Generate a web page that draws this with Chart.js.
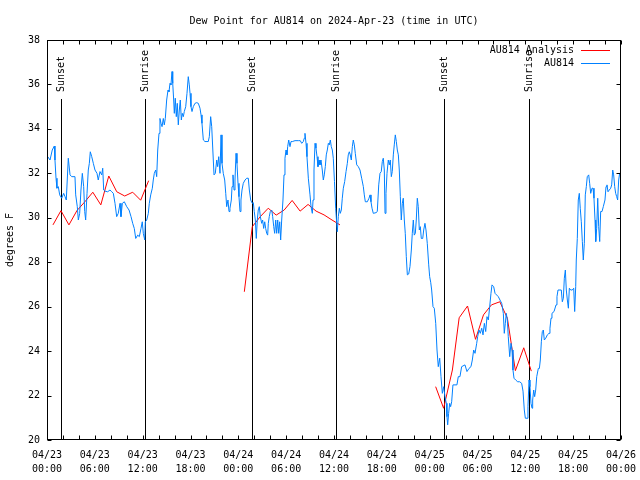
<!DOCTYPE html>
<html>
<head>
<meta charset="utf-8">
<title>Dew Point for AU814</title>
<script src="https://cdn.jsdelivr.net/npm/chart.js@4/dist/chart.umd.min.js"></script>
<style>
  html, body { margin: 0; padding: 0; background: #fff; }
  canvas { display: block; }
</style>
</head>
<body>
<canvas id="chart" width="640" height="480"></canvas>
<script>
// hours are counted from 04/23 00:00 UTC
const startMonth = '04';
const startDay = 23;

// AU814 station obs, dew point deg F
const obsHours = [
  0.09, 0.38, 0.66, 0.92, 1.0, 1.13, 1.25, 1.42, 1.59, 1.84, 2.09, 2.26, 2.42, 2.6, 2.67, 2.89, 3.1, 3.51, 3.6, 3.8,
  3.93, 4.1, 4.26, 4.43, 4.6, 4.73, 4.85, 5.02, 5.18, 5.31, 5.43, 5.61, 5.81, 6.02, 6.27, 6.43, 6.65, 6.86, 6.99, 7.11,
  7.28, 7.61, 7.9, 8.12, 8.32, 8.53, 8.74, 8.94, 9.16, 9.28, 9.45, 9.7, 10.0, 10.29, 10.54, 10.75, 10.95, 11.13, 11.38, 11.58,
  11.79, 11.95, 12.08, 12.26, 12.33, 12.51, 12.71, 12.83, 13.01, 13.21, 13.33, 13.46, 13.63, 13.76, 13.89, 14.05, 14.17, 14.3, 14.43, 14.59,
  14.71, 14.84, 15.01, 15.18, 15.3, 15.43, 15.55, 15.68, 15.77, 15.89, 15.97, 16.09, 16.22, 16.34, 16.47, 16.6, 16.72, 16.85, 16.97, 17.1,
  17.22, 17.4, 17.56, 17.72, 17.85, 17.94, 18.06, 18.19, 18.35, 18.56, 18.78, 18.98, 19.19, 19.32, 19.44, 19.61, 19.82, 20.23, 20.36, 20.53,
  20.66, 20.86, 20.95, 21.11, 21.29, 21.41, 21.54, 21.7, 21.83, 21.95, 22.11, 22.29, 22.42, 22.54, 22.7, 22.83, 22.95, 23.12, 23.21, 23.33,
  23.46, 23.58, 23.71, 23.83, 23.96, 24.08, 24.21, 24.33, 24.46, 24.62, 24.84, 25.05, 25.25, 25.38, 25.55, 25.75, 25.88, 26.0, 26.13, 26.25,
  26.38, 26.5, 26.63, 26.76, 26.93, 27.05, 27.18, 27.31, 27.43, 27.56, 27.68, 27.76, 27.88, 28.01, 28.19, 28.31, 28.44, 28.56, 28.69, 28.81,
  28.94, 29.06, 29.19, 29.31, 29.44, 29.6, 29.73, 29.85, 29.98, 30.1, 30.19, 30.32, 30.48, 30.61, 30.77, 31.11, 31.52, 31.77, 31.95, 32.15,
  32.27, 32.36, 32.49, 32.61, 32.78, 32.99, 33.12, 33.28, 33.37, 33.49, 33.62, 33.74, 33.87, 33.99, 34.12, 34.24, 34.37, 34.53, 34.66, 34.78,
  34.91, 35.03, 35.16, 35.29, 35.41, 35.54, 35.66, 35.79, 35.91, 36.06, 36.21, 36.34, 36.41, 36.54, 36.67, 36.79, 36.92, 37.04, 37.17, 37.34,
  37.51, 37.67, 37.79, 37.92, 38.04, 38.17, 38.3, 38.42, 38.55, 38.67, 38.85, 39.05, 39.26, 39.47, 39.68, 39.8, 39.93, 40.18, 40.39, 40.52,
  40.64, 40.77, 40.93, 41.27, 41.43, 41.61, 41.77, 41.93, 42.06, 42.18, 42.31, 42.4, 42.52, 42.65, 42.81, 42.94, 43.06, 43.19, 43.31, 43.44,
  43.56, 43.69, 43.82, 43.94, 44.07, 44.19, 44.32, 44.44, 44.57, 44.69, 44.82, 44.94, 45.07, 45.2, 45.37, 45.53, 45.7, 45.82, 45.95, 46.07,
  46.2, 46.32, 46.45, 46.57, 46.7, 46.83, 46.95, 47.13, 47.25, 47.41, 47.54, 47.7, 47.88, 48.0, 48.13, 48.25, 48.42, 48.58, 48.76, 48.92,
  49.08, 49.26, 49.42, 49.59, 49.76, 49.92, 50.09, 50.17, 50.26, 50.38, 50.51, 50.63, 50.76, 50.92, 51.42, 51.59, 51.8, 52.01, 52.43, 52.68,
  52.93, 53.18, 53.35, 53.52, 53.69, 53.9, 54.02, 54.19, 54.35, 54.53, 54.69, 54.86, 55.03, 55.19, 55.36, 55.53, 55.69, 55.82, 56.03, 56.2,
  56.61, 56.82, 57.04, 57.24, 57.36, 57.49, 57.61, 57.74, 57.86, 58.04, 58.2, 58.33, 58.45, 58.58, 58.79, 59.04, 59.29, 59.54, 59.71, 59.87,
  60.0, 60.21, 60.33, 60.46, 60.58, 60.71, 60.84, 60.92, 61.05, 61.17, 61.3, 61.43, 61.63, 61.76, 61.88, 62.01, 62.13, 62.26, 62.38, 62.56,
  62.76, 62.97, 63.09, 63.22, 63.34, 63.6, 63.72, 63.85, 63.97, 64.1, 64.51, 64.64, 64.77, 64.89, 65.02, 65.14, 65.27, 65.4, 65.52, 65.69,
  65.89, 66.07, 66.19, 66.32, 66.39, 66.52, 66.64, 66.77, 66.89, 67.02, 67.15, 67.27, 67.4, 67.52, 67.65, 67.77, 67.95, 68.07, 68.2, 68.36,
  68.49, 68.61, 68.74, 68.83, 68.95, 69.08, 69.2, 69.33, 69.45, 69.62, 69.78, 69.99, 70.12, 70.24, 70.37, 70.53, 70.71, 70.83, 70.96, 71.08,
  71.21, 71.33, 71.46, 71.58, 71.71, 71.83, 71.91
];
const obsDewF = [
  32.75, 32.6, 33.05, 33.23, 32.6, 31.78, 31.33, 31.4, 31.03, 30.88, 31.1, 30.95, 30.8, 32.15, 32.68, 31.93, 31.85, 31.85, 31.03, 30.5,
  29.9, 30.2, 31.25, 32.0, 31.4, 30.28, 29.9, 31.1, 32.15, 32.45, 32.97, 32.75, 32.45, 32.15, 32.0, 31.7, 32.08, 31.93, 32.23, 31.25,
  31.2, 31.17, 31.25, 31.17, 31.1, 30.65, 30.05, 30.2, 30.65, 30.05, 30.65, 30.72, 30.5, 30.35, 30.05, 29.75, 29.52, 29.07, 29.22, 29.15,
  29.52, 29.82, 29.3, 29.0, 29.82, 29.9, 30.2, 30.65, 31.03, 31.33, 31.7, 32.0, 32.15, 31.85, 33.05, 33.8, 34.47, 34.25, 34.1, 34.47,
  34.18, 34.47, 35.3, 35.75, 35.67, 36.05, 35.98, 36.58, 36.05, 35.3, 34.7, 35.38, 34.55, 35.15, 34.18, 34.85, 35.3, 34.4, 34.7, 34.55,
  34.78, 35.0, 35.6, 36.35, 35.98, 35.6, 35.0, 34.78, 35.0, 35.15, 35.18, 35.15, 34.93, 34.63, 34.25, 33.5, 33.43, 33.43, 33.65, 34.55,
  34.1, 32.6, 31.93, 32.0, 32.6, 32.3, 32.75, 32.0, 33.73, 32.45, 32.0, 31.7, 31.1, 30.5, 30.8, 30.28, 30.43, 30.8, 31.4, 31.93,
  31.25, 31.7, 32.9, 32.45, 31.55, 30.95, 30.28, 30.8, 31.25, 31.55, 31.7, 31.78, 31.78, 31.25, 30.8, 30.65, 30.68, 30.28, 29.9, 29.07,
  29.9, 30.35, 30.5, 30.05, 29.75, 29.9, 29.52, 29.82, 29.52, 29.3, 29.22, 29.75, 30.05, 30.28, 30.35, 30.05, 29.6, 29.3, 29.9, 29.3,
  29.9, 29.3, 29.82, 29.0, 29.9, 30.8, 31.93, 32.68, 33.05, 32.83, 33.2, 33.5, 33.2, 33.43, 33.43, 33.47, 33.47, 33.47, 33.35, 33.43,
  33.58, 33.8, 33.35, 32.75, 31.78, 31.03, 30.5, 30.2, 30.8, 32.15, 33.35, 33.13, 32.75, 32.3, 32.6, 32.38, 32.6, 32.15, 31.7, 31.93,
  32.3, 32.83, 33.05, 33.35, 33.28, 33.5, 33.2, 33.05, 32.68, 31.63, 30.43, 29.75, 29.37, 30.05, 30.43, 30.2, 30.35, 30.88, 31.33, 31.63,
  32.08, 32.45, 32.83, 32.97, 32.83, 32.6, 33.2, 33.5, 33.28, 32.9, 32.38, 32.3, 32.15, 31.78, 31.4, 31.03, 30.72, 30.72, 30.88, 31.03,
  30.72, 30.43, 30.2, 30.23, 30.28, 31.48, 32.0, 32.08, 32.53, 32.68, 32.15, 30.2, 31.1, 32.0, 32.6, 32.38, 32.6, 31.85, 32.08, 32.83,
  33.28, 33.73, 33.43, 33.05, 32.83, 32.15, 30.95, 29.9, 30.65, 30.88, 29.9, 29.3, 28.25, 27.43, 27.47, 27.8, 28.55, 29.3, 29.9, 29.22,
  29.3, 29.9, 30.88, 30.5, 29.45, 29.6, 29.07, 29.07, 29.45, 29.75, 29.45, 28.85, 27.88, 27.35, 27.1, 26.75, 26.0, 25.93, 25.25, 24.05,
  23.3, 23.68, 22.85, 22.1, 22.4, 21.95, 21.65, 21.05, 20.68, 21.2, 21.65, 21.5, 21.72, 22.48, 22.48, 22.85, 22.85, 23.3, 23.38, 23.08,
  23.22, 23.3, 23.6, 24.05, 23.9, 24.35, 24.65, 24.95, 24.8, 25.03, 24.73, 25.25, 24.88, 25.55, 25.4, 26.0, 26.6, 26.98, 26.9, 26.6,
  26.45, 26.3, 26.15, 25.7, 24.8, 25.25, 25.7, 25.4, 24.65, 23.75, 24.35, 24.05, 23.15, 22.78, 22.7, 22.62, 22.62, 22.55, 22.2, 21.35,
  20.98, 20.98, 21.5, 22.7, 22.4, 21.65, 21.43, 21.8, 22.25, 21.95, 22.25, 22.85, 23.22, 23.22, 23.6, 24.42, 24.88, 24.95, 24.5, 24.58,
  24.73, 24.8, 25.03, 25.48, 25.7, 25.78, 25.78, 26.08, 26.45, 26.75, 26.75, 26.22, 26.38, 27.28, 27.65, 26.75, 26.3, 25.93, 26.83, 26.75,
  26.75, 26.83, 25.78, 26.9, 28.1, 29.07, 30.8, 31.1, 30.43, 29.82, 28.93, 28.1, 28.85, 31.03, 31.4, 31.85, 31.93, 31.55, 31.1, 31.33,
  31.33, 30.88, 29.9, 28.93, 29.52, 30.88, 29.6, 28.93, 30.28, 30.28, 30.5, 30.8, 31.4, 31.48, 31.17, 31.25, 31.33, 31.48, 32.15, 31.93,
  31.4, 31.1, 30.95, 30.8, 31.7, 32.0, 32.0
];

// AU814 analysis, hourly; null = no analysis (line break)
const anaHours = [
  0.75, 1.75, 2.75, 3.75, 4.75, 5.75, 6.75, 7.75, 8.75, 9.75, 10.75, 11.75, 12.75,
  18,
  24.75, 25.75, 26.75, 27.75, 28.75, 29.75, 30.75, 31.75, 32.75, 33.75, 34.75, 35.75, 36.75,
  42,
  48.75, 49.75, 50.85, 51.7, 52.75, 53.75, 54.75, 55.75, 56.8, 57.75, 58.75, 59.8, 60.75
];
const anaDewF = [
  29.68, 30.32, 29.68, 30.32, 30.72, 31.15, 30.58, 31.88, 31.17, 30.98, 31.15, 30.79, 31.67,
  null,
  26.67, 29.6, 30.05, 30.43, 30.12, 30.35, 30.78, 30.3, 30.6, 30.3, 30.13, 29.9, 29.68,
  null,
  22.4, 21.43, 23.15, 25.5, 26.03, 24.53, 25.63, 26.08, 26.22, 25.48, 23.12, 24.15, 23.1
];

const sunHours = [1.8, 12.33, 25.77, 36.3, 49.85, 60.4];
const sunLabels = ['Sunset', 'Sunrise', 'Sunset', 'Sunrise', 'Sunset', 'Sunrise'];

const yMin = 20, yMax = 38, yStep = 2;
const xMin = 0, xMax = 72, xStep = 2, xLabelEvery = 6;

const FONT = '"DejaVu Sans Mono", "Liberation Mono", monospace';

const toPoints = (xs, ys) => xs.map((x, i) => ({ x: x, y: ys[i] }));

// gnuplot-ish frame, inward ticks, sunrise/sunset markers and legend
const gnuplotDeco = {
  id: 'gnuplotDeco',
  beforeDatasetsDraw(chart) {
    const { ctx, chartArea: a, scales: { x } } = chart;
    ctx.save();
    ctx.strokeStyle = '#000';
    ctx.fillStyle = '#000';
    ctx.lineWidth = 1;
    ctx.font = '10px ' + FONT;
    sunHours.forEach((h, i) => {
      const px = Math.round(x.getPixelForValue(h)) + 0.5;
      ctx.beginPath();
      ctx.moveTo(px, a.top + 59);
      ctx.lineTo(px, a.bottom);
      ctx.stroke();
      ctx.save();
      ctx.translate(px, a.top + 52);
      ctx.rotate(-Math.PI / 2);
      ctx.textAlign = 'left';
      ctx.textBaseline = 'middle';
      ctx.fillText(sunLabels[i], 0, 0);
      ctx.restore();
    });
    ctx.restore();
  },
  afterDraw(chart) {
    const { ctx, chartArea: a, scales: { x, y } } = chart;
    const L = Math.round(a.left) + 0.5, R = Math.round(a.right) - 0.5;
    const T = Math.round(a.top) + 0.5, B = Math.round(a.bottom) - 0.5;
    ctx.save();
    ctx.strokeStyle = '#000';
    ctx.lineWidth = 1;
    ctx.strokeRect(L, T, R - L, B - T);
    ctx.beginPath();
    x.ticks.forEach(t => {
      const px = Math.round(x.getPixelForValue(t.value)) + 0.5;
      ctx.moveTo(px, B); ctx.lineTo(px, B - 4);
      ctx.moveTo(px, T); ctx.lineTo(px, T + 4);
    });
    y.ticks.forEach(t => {
      const py = Math.round(y.getPixelForValue(t.value)) + 0.5;
      ctx.moveTo(L, py); ctx.lineTo(L + 4, py);
      ctx.moveTo(R, py); ctx.lineTo(R - 4, py);
    });
    ctx.stroke();

    // legend, text left of the sample line
    ctx.font = '10px ' + FONT;
    ctx.textAlign = 'right';
    ctx.textBaseline = 'middle';
    ctx.fillStyle = '#000';
    chart.data.datasets.forEach((ds, i) => {
      const ly = Math.round(a.top + 10 + i * 13) + 0.5;
      ctx.fillText(ds.label, a.right - 47, ly);
      ctx.strokeStyle = ds.borderColor;
      ctx.beginPath();
      ctx.moveTo(a.right - 40, ly);
      ctx.lineTo(a.right - 11, ly);
      ctx.stroke();
    });
    ctx.restore();
  }
};

Chart.defaults.color = '#000';
Chart.defaults.font.family = FONT;
Chart.defaults.font.size = 10;

new Chart(document.getElementById('chart').getContext('2d'), {
  type: 'line',
  data: {
    datasets: [
      {
        label: 'AU814 Analysis',
        data: toPoints(anaHours, anaDewF),
        borderColor: '#ff0000',
        borderWidth: 1,
        pointRadius: 0,
        spanGaps: false,
        order: 2
      },
      {
        label: 'AU814',
        data: toPoints(obsHours, obsDewF),
        borderColor: '#0080ff',
        borderWidth: 1,
        pointRadius: 0,
        order: 1
      }
    ]
  },
  options: {
    responsive: false,
    animation: false,
    devicePixelRatio: 1,
    layout: { padding: { left: 0, right: 19, top: 0, bottom: 0 } },
    plugins: {
      legend: { display: false },
      tooltip: { enabled: false },
      title: {
        display: true,
        fullSize: false,
        text: 'Dew Point for AU814 on 2024-Apr-23 (time in UTC)',
        font: { size: 10, weight: 'normal' },
        padding: { top: 15, bottom: 13 }
      }
    },
    scales: {
      x: {
        type: 'linear',
        min: xMin,
        max: xMax,
        grid: { display: false, drawTicks: false },
        border: { display: false },
        afterFit: s => { s.height = 40; s.paddingLeft = 0; s.paddingRight = 0; },
        ticks: {
          stepSize: xStep,
          autoSkip: false,
          maxRotation: 0,
          padding: 9,
          font: { size: 10, lineHeight: 1.35 },
          callback: v => {
            if (v % xLabelEvery !== 0) return '';
            const day = startDay + Math.floor(v / 24);
            const hr = String(v % 24).padStart(2, '0');
            return [startMonth + '/' + day, hr + ':00'];
          }
        }
      },
      y: {
        min: yMin,
        max: yMax,
        grid: { display: false, drawTicks: false },
        border: { display: false },
        afterFit: s => { s.width = 47; },
        ticks: { stepSize: yStep, padding: 7 },
        title: {
          display: true,
          text: 'degrees F',
          font: { size: 10 },
          padding: { top: 4, bottom: 0 }
        }
      }
    }
  },
  plugins: [gnuplotDeco]
});
</script>
</body>
</html>
